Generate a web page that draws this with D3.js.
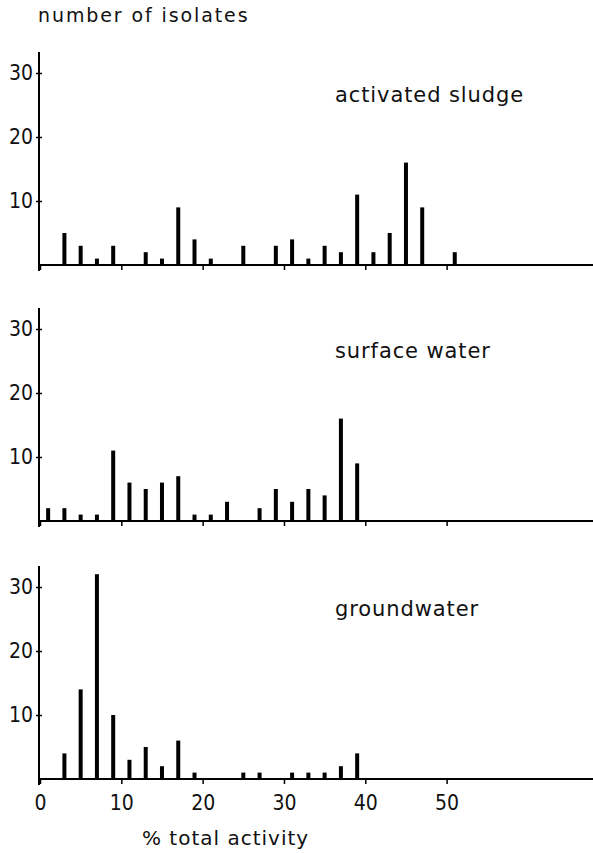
<!DOCTYPE html>
<html>
<head>
<meta charset="utf-8">
<script src="https://cdn.jsdelivr.net/npm/d3@7"></script>
<style>
  body { margin: 0; background: #fff; }
  svg text { font-family: "DejaVu Sans", sans-serif; fill: #111; }
</style>
</head>
<body>
<svg id="chart"></svg>
<script>
// panel names and bar values (bars stand at odd % total activity)
var panels = ["activated sludge", "surface water", "groundwater"];
var sludgeX = [3, 5, 7, 9, 13, 15, 17, 19, 21, 25, 29, 31, 33, 35, 37, 39, 41, 43, 45, 47, 51];
var sludgeN = [5, 3, 1, 3, 2, 1, 9, 4, 1, 3, 3, 4, 1, 3, 2, 11, 2, 5, 16, 9, 2];
var surfaceX = [1, 3, 5, 7, 9, 11, 13, 15, 17, 19, 21, 23, 27, 29, 31, 33, 35, 37, 39];
var surfaceN = [2, 2, 1, 1, 11, 6, 5, 6, 7, 1, 1, 3, 2, 5, 3, 5, 4, 16, 9];
var groundX = [3, 5, 7, 9, 11, 13, 15, 17, 19, 25, 27, 31, 33, 35, 37, 39];
var groundN = [4, 14, 32, 10, 3, 5, 2, 6, 1, 1, 1, 1, 1, 1, 2, 4];
var xTicks = [0, 10, 20, 30, 40, 50];
var yTicks = [10, 20, 30];

var series = [
    d3.zip(sludgeX, sludgeN),
    d3.zip(surfaceX, surfaceN),
    d3.zip(groundX, groundN)
];

var width = 593, height = 853;
var svg = d3.select("#chart").attr("width", width).attr("height", height);

var x = d3.scaleLinear().domain([0, 68]).range([40, 593]);
var baselines = [265, 521, 779];
var panelH = 192;

panels.forEach(function(name, i) {
    var base = baselines[i];
    var y = d3.scaleLinear().domain([0, 30]).range([base, base - panelH]);
    var g = svg.append("g");

    // bars
    g.selectAll("rect.bar")
        .data(series[i])
        .enter()
        .append("rect")
        .attr("class", "bar")
        .attr("x", function(d) { return x(d[0]) - 2; })
        .attr("width", 4)
        .attr("y", function(d) { return y(d[1]); })
        .attr("height", function(d) { return base - y(d[1]); })
        .style("fill", "#000");

    // x axis
    var xa = g.append("g")
        .attr("transform", "translate(0," + base + ")")
        .call(d3.axisBottom(x).tickValues(xTicks).tickSize(5)
            .tickFormat(i === 2 ? d3.format("d") : ""));
    xa.select(".domain").attr("d", "M38,0H593").attr("stroke", "#000").attr("stroke-width", 2);
    xa.selectAll(".tick line").attr("stroke", "#000").attr("stroke-width", 1.5);
    xa.selectAll(".tick text")
        .attr("y", 16)
        .style("font-size", "21px")
        .style("font-family", "'DejaVu Sans Condensed', 'DejaVu Sans', sans-serif");

    // y axis
    var ya = g.append("g")
        .attr("transform", "translate(39,0)")
        .call(d3.axisLeft(y).tickValues(yTicks).tickSize(3).tickPadding(3));
    ya.select(".domain").attr("d", "M0," + (base + 6) + "V" + y(33.3)).attr("stroke", "#000").attr("stroke-width", 2);
    ya.selectAll(".tick line").attr("x1", -3).attr("x2", 3).attr("stroke", "#000").attr("stroke-width", 1.5);
    ya.selectAll(".tick text")
        .style("font-size", "21px")
        .style("font-family", "'DejaVu Sans Condensed', 'DejaVu Sans', sans-serif");

    // panel title
    g.append("text")
        .attr("x", 335)
        .attr("y", y(30) + 29)
        .style("font-size", "21px")
        .style("letter-spacing", "0.9px")
        .text(name);
});

svg.append("text")
    .attr("x", 38)
    .attr("y", 22)
    .style("font-size", "19px")
    .style("letter-spacing", "1.9px")
    .text("number of isolates");

svg.append("text")
    .attr("x", 142)
    .attr("y", 845)
    .style("font-size", "20px")
    .style("letter-spacing", "1px")
    .text("% total activity");
</script>
</body>
</html>
